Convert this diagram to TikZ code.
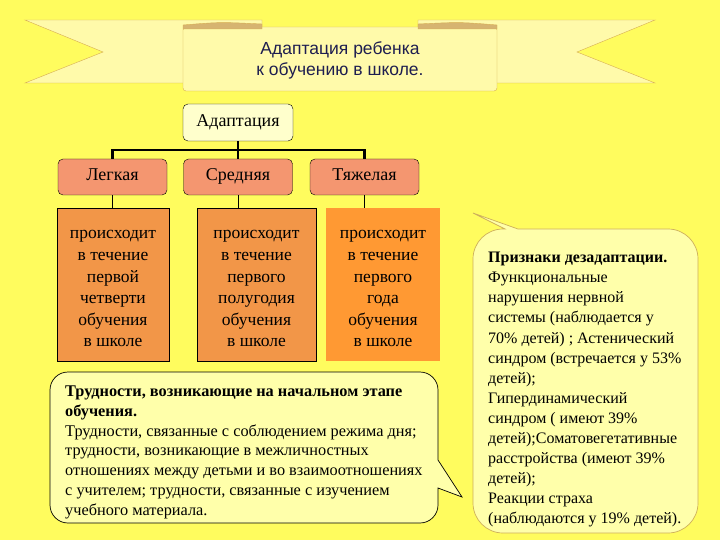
\documentclass[tikz,border=0pt]{standalone}
\usepackage{fontspec}
\setmainfont{Liberation Serif}
\newfontfamily\bannerfont{Liberation Sans}
\usetikzlibrary{positioning,calc}
\definecolor{pagebg}{RGB}{255,252,94}
\definecolor{ribbonfill}{RGB}{255,250,170}
\definecolor{ribbonline}{RGB}{214,172,80}
\definecolor{foldtan}{RGB}{214,180,112}
\definecolor{titleblue}{RGB}{30,30,80}
\definecolor{rootfill}{RGB}{255,255,204}
\definecolor{levelfill}{RGB}{244,150,112}
\definecolor{termfill}{RGB}{242,150,72}
\definecolor{heavyfill}{RGB}{255,153,51}
\definecolor{notefill}{RGB}{255,255,170}
\definecolor{noteline}{RGB}{205,175,90}
\tikzset{root/.style={draw,rounded corners=5pt,fill=rootfill,minimum width=110pt,minimum height=37pt,text height=12pt,text depth=4pt,font=\fontsize{18}{21}\selectfont},level/.style={draw,rounded corners=5pt,fill=levelfill,minimum width=109pt,minimum height=36pt,text height=12pt,text depth=4pt,font=\fontsize{18}{21}\selectfont},term/.style={fill=termfill,align=center,minimum height=153pt,inner sep=0pt,font=\fontsize{17.5}{21.6}\selectfont},tree/.style={line width=2.2pt},link/.style={line width=0.6pt},callout/.style={fill=notefill,line width=0.7pt},notetext/.style={anchor=north west,align=left,inner sep=0pt}}

\begin{document}
\begin{tikzpicture}[x=1pt,y=-1pt]
\fill[pagebg] (0,0) rectangle (720,540);
\filldraw[fill=ribbonfill,draw=ribbonline] (25,20) -- (262,20) -- (262,83) -- (25,83) -- (103,52) -- cycle;
\filldraw[fill=ribbonfill,draw=ribbonline] (655,20) -- (418,20) -- (418,83) -- (655,83) -- (577,52) -- cycle;
\filldraw[fill=ribbonfill,draw=ribbonline,rounded corners=3pt] (183,27) rectangle (497,91);
\filldraw[fill=foldtan,draw=ribbonline] (183,29) -- (183,25) .. controls (220,22) .. (262,24) -- (262,29) -- cycle;
\filldraw[fill=foldtan,draw=ribbonline] (497,29) -- (497,25) .. controls (460,22) .. (418,24) -- (418,29) -- cycle;
\node[align=center,text=titleblue,font=\bannerfont\fontsize{17.5}{21}\selectfont] (title) at (340,60) {Адаптация ребенка\\к обучению в школе.};

\node[root] (adapt) at (238,122.5) {Адаптация};
\node[level] (light) at (112.5,177) {Легкая};
\node[level] (medium) at (238,177) {Средняя};
\node[level] (heavy) at (364.5,177) {Тяжелая};
\node[term,draw,minimum width=112pt] (lightterm) at (113,284.5) {\raisebox{0pt}[17pt][0pt]{}происходит\\в течение\\первой\\четверти\\обучения\\в школе};
\node[term,draw,minimum width=119pt] (mediumterm) at (256.5,284.5) {\raisebox{0pt}[17pt][0pt]{}происходит\\в течение\\первого\\полугодия\\обучения\\в школе};
\node[term,fill=heavyfill,minimum width=114pt] (heavyterm) at (383,284.5) {\raisebox{0pt}[17pt][0pt]{}происходит\\в течение\\первого\\года\\обучения\\в школе};
\draw[tree] (adapt.south) -- (medium.north);
\draw[tree] (light.north) -- ++(0,-9) -| (heavy.north);
\draw[link] (light.south) -- (light.south |- lightterm.north);
\draw[link] (medium.south) -- (medium.south |- mediumterm.north);
\draw[link] (heavy.south) -- (heavy.south |- heavyterm.north);

\filldraw[callout] (240,523) [rounded corners=18pt] -- (50,523) -- (50,372) -- (438,372) [sharp corners] -- (438,460) -- (462,497) -- (438,488) [rounded corners=18pt] -- (438,523) -- cycle;
\node[notetext,font=\fontsize{16.3}{19.7}\selectfont] (difficulties) at (65,386) {\textbf{Трудности, возникающие на начальном этапе}\\\textbf{обучения.}\\Трудности, связанные с соблюдением режима дня;\\трудности, возникающие в межличностных\\отношениях между детьми и во взаимоотношениях\\с учителем; трудности, связанные с изучением\\учебного материала.};

\filldraw[callout,draw=noteline] (600,533) [rounded corners=30pt] -- (473,533) -- (473,229) [sharp corners] -- (505,229) -- (473,213) -- (518,229) [rounded corners=30pt] -- (698,229) -- (698,533) -- cycle;
\node[notetext,font=\fontsize{16}{20.1}\selectfont] (signs) at (488,252) {\textbf{Признаки дезадаптации.}\\Функциональные\\нарушения нервной\\системы (наблюдается у\\70\% детей) ; Астенический\\синдром (встречается у 53\%\\детей);\\Гипердинамический\\синдром ( имеют 39\%\\детей);Соматовегетативные\\расстройства (имеют 39\%\\детей);\\Реакции страха\\(наблюдаются у 19\% детей).};
\end{tikzpicture}
\end{document}
